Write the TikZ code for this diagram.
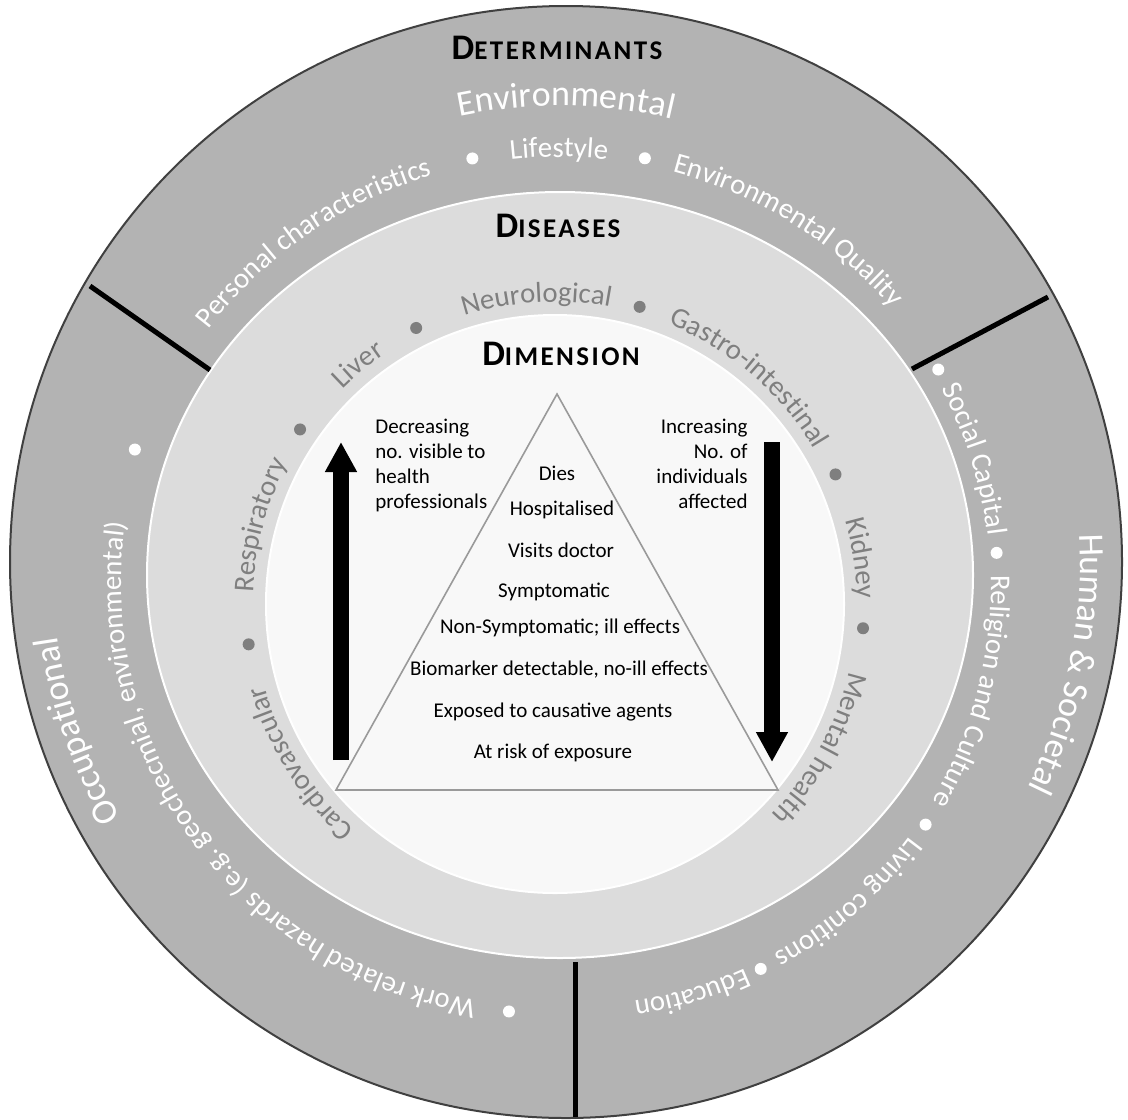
\documentclass[tikz,border=0pt]{standalone}
\usepackage{fontspec}
\setmainfont{Carlito}
\newfontfamily\headfont[LetterSpace=9]{Carlito}
\usetikzlibrary{arrows.meta,calc,decorations.text}
\definecolor{ringdark}{HTML}{B3B3B3}
\definecolor{ringmid}{HTML}{DCDCDC}
\definecolor{ringlight}{HTML}{F8F8F8}
\definecolor{distext}{HTML}{7F7F7F}
\definecolor{edgegray}{HTML}{404040}
\definecolor{trigray}{HTML}{9A9A9A}
\newcommand\rimw{\fontsize{14.4}{17}\selectfont\color{white}}
\newcommand\bigw{\fontsize{18}{21}\selectfont\color{white}}
\newcommand\disg{\fontsize{14.4}{17}\selectfont\color{distext}}
\newcommand\smcap[2]{{\headfont\bfseries\fontsize{18}{20}\selectfont#1\fontsize{13.5}{15}\selectfont#2}}
\begin{document}
\begin{tikzpicture}[x=0.5pt,y=-0.5pt,
  lvl/.style={font=\fontsize{10.5}{12.5}\selectfont,inner sep=0pt},
  sep/.style={line width=2.5pt,black},
  tri/.style={draw=trigray,line width=0.8pt,line join=miter},
  bigarr/.style={line width=8pt,-{Triangle[width=15pt,length=15pt]}}]
\useasboundingbox (0,0) rectangle (1128,1119);
% rings
\coordinate (oc) at (566,562);
\coordinate (dc) at (560,575);
\coordinate (ic) at (555,604);
\filldraw[fill=ringdark,draw=edgegray,line width=1pt] (oc) circle (556);
\filldraw[fill=ringmid,draw=white,line width=1pt] (dc) ellipse [x radius=413,y radius=383];
\filldraw[fill=ringlight,draw=white,line width=1pt] (ic) circle (289);
% separators
\coordinate (s1a) at (90,286);
\coordinate (s1b) at (210,370);
\coordinate (s2a) at (1048,297);
\coordinate (s2b) at (912,369);
\coordinate (s3a) at (575,1117);
\coordinate (s3b) at (575,962);
\draw[sep] (s1a) -- (s1b);
\draw[sep] (s2a) -- (s2b);
\draw[sep] (s3a) -- (s3b);
% determinants, top
\coordinate (tc) at (559,600);
\path[decorate,decoration={text along path,text align=center,text={|\rimw|Personal characteristics}}] ($(tc)+(185.5:443)$) arc[start angle=185.5,end angle=285.5,radius=443];
\path[decorate,decoration={text along path,text align=center,text={|\rimw|Lifestyle}}] ($(tc)+(220:443)$) arc[start angle=220,end angle=320,radius=443];
\path[decorate,decoration={text along path,text align=center,text={|\rimw|Environmental Quality}}] ($(tc)+(251.8:443)$) arc[start angle=251.8,end angle=351.8,radius=443];
\foreach \a in {258.9,281}
  \fill[white] ($(tc)+(\a:450)$) circle (6);
\path[decorate,decoration={text along path,text align=center,text={|\bigw|Environmental}}] ($(tc)+(220.8:494)$) arc[start angle=220.8,end angle=320.8,radius=494];
% determinants, right
\coordinate (rc) at (572,587);
\path[decorate,decoration={text along path,text align=center,text={|\rimw|Social Capital}}] ($(rc)+(-62.6:419)$) arc[start angle=-62.6,end angle=27.4,radius=419];
\path[decorate,decoration={text along path,text align=center,text={|\rimw|Religion and Culture}}] ($(rc)+(-30.4:419)$) arc[start angle=-30.4,end angle=59.6,radius=419];
\path[decorate,decoration={text along path,text align=center,text={|\rimw|Living conitions}}] ($(rc)+(3.8:419)$) arc[start angle=3.8,end angle=93.8,radius=419];
\path[decorate,decoration={text along path,text align=center,text={|\rimw|Education}}] ($(rc)+(28.5:419)$) arc[start angle=28.5,end angle=118.5,radius=419];
\foreach \a in {-30.7,-4.6,33.9,63.7}
  \fill[white] ($(rc)+(\a:426)$) circle (6);
% determinants, left
\coordinate (lc) at (545,582);
\path[decorate,decoration={text along path,text align=center,text={|\rimw|Work related hazards (e.g. geochecmial, environmental)}}] ($(lc)+(83.7:424)$) arc[start angle=83.7,end angle=203.7,radius=424];
\foreach \a in {94.8,197.9}
  \fill[white] ($(lc)+(\a:431)$) circle (6);
\path[decorate,decoration={text along path,text align=center,text={|\bigw|Occupational}}] ($(oc)+(120.9:514)$) arc[start angle=120.9,end angle=200.9,radius=514];
\path[decorate,decoration={text along path,text align=center,text={|\bigw|Human {\&} Societal}}] ($(oc)+(-28.5:514)$) arc[start angle=-28.5,end angle=51.5,radius=514];
% diseases
\path[decorate,decoration={text along path,text align=center,text={|\disg|Cardiovascular}}] ($(ic)+(108:302)$) arc[start angle=108,end angle=188,radius=302];
\path[decorate,decoration={text along path,text align=center,text={|\disg|Respiratory}}] ($(ic)+(155:302)$) arc[start angle=155,end angle=235,radius=302];
\path[decorate,decoration={text along path,text align=center,text={|\disg|Liver}}] ($(ic)+(190.5:302)$) arc[start angle=190.5,end angle=270.5,radius=302];
\path[decorate,decoration={text along path,text align=center,text={|\disg|Neurological}}] ($(ic)+(226.5:302)$) arc[start angle=226.5,end angle=306.5,radius=302];
\path[decorate,decoration={text along path,text align=center,text={|\disg|Gastro-intestinal}}] ($(ic)+(270.6:302)$) arc[start angle=270.6,end angle=350.6,radius=302];
\path[decorate,decoration={text along path,text align=center,text={|\disg|Kidney}}] ($(ic)+(311.5:302)$) arc[start angle=311.5,end angle=391.5,radius=302];
\path[decorate,decoration={text along path,text align=center,text={|\disg|Mental health}}] ($(ic)+(348.5:302)$) arc[start angle=348.5,end angle=428.5,radius=302];
\foreach \a in {172.5,214.4,243.3,285.9,335.2,364.5}
  \fill[distext] ($(ic)+(\a:309)$) circle (6);
% headings
\node (hdet) at (557,48) {\smcap{D}{ETERMINANTS}};
\node (hdis) at (558,226) {\smcap{D}{ISEASES}};
\node (hdim) at (561,354) {\smcap{D}{IMENSION}};
% pyramid
\coordinate (apex) at (557,394);
\coordinate (bl) at (336,790);
\coordinate (br) at (778,790);
\draw[tri] (apex) -- (br) -- (bl) -- cycle;
\node[lvl] (dies) at (557,473) {Dies};
\node[lvl] (hosp) at (562,510) {Hospitalised};
\node[lvl] (visit) at (561,550) {Visits doctor};
\node[lvl] (symp) at (554,592) {Symptomatic};
\node[lvl] (nonsymp) at (560,628) {Non-Symptomatic; ill effects};
\node[lvl] (biom) at (559,670) {Biomarker detectable, no-ill effects};
\node[lvl] (expo) at (553,712) {Exposed to causative agents};
\node[lvl] (risk) at (553,753) {At risk of exposure};
\node[lvl,align=left,anchor=west] (decr) at (375,465) {Decreasing\\no. visible to\\health\\professionals};
\node[lvl,align=right,anchor=east] (incr) at (748,464) {Increasing\\No. of\\individuals\\affected};
% arrows
\coordinate (upA) at (341,760);
\coordinate (upB) at (341,442);
\coordinate (dnA) at (772,442);
\coordinate (dnB) at (772,762);
\draw[bigarr] (upA) -- (upB);
\draw[bigarr] (dnA) -- (dnB);
\end{tikzpicture}
\end{document}
